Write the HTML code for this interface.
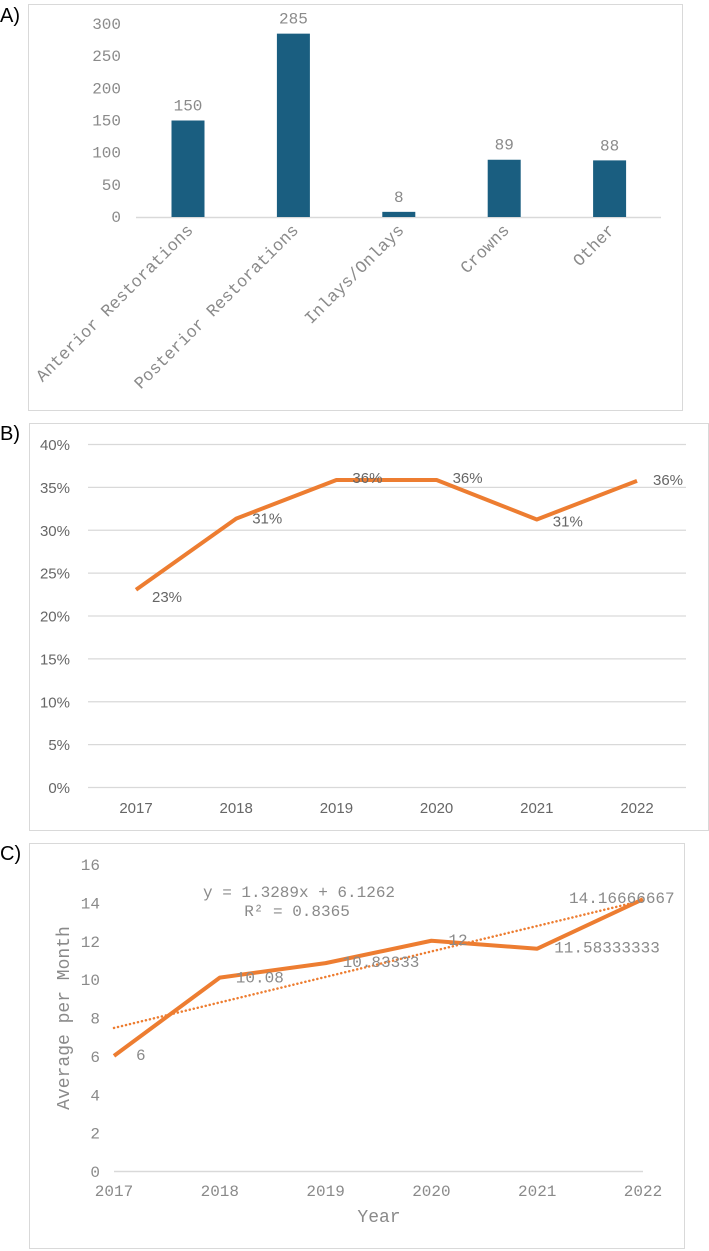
<!DOCTYPE html>
<html><head><meta charset="utf-8">
<style>
html,body{margin:0;padding:0;background:#fff;}
body{width:709px;height:1251px;position:relative;overflow:hidden;font-family:"Liberation Sans",sans-serif;}
svg{position:absolute;left:0;top:0;}
.mono{font-family:"Liberation Mono","DejaVu Sans Mono",monospace;fill:#8a8a8a;font-size:16px;}
.cat{font-size:17px;}
.nar{font-family:"Liberation Sans Narrow","Liberation Sans",sans-serif;fill:#666;font-size:15px;}
.pl{font-family:"Liberation Sans",sans-serif;font-size:20px;fill:#000;}
</style></head>
<body>
<svg width="709" height="1251" id="fig">
  <text class="pl" x="0" y="22">A)</text>
  <rect x="28.5" y="4.5" width="654" height="406" fill="none" stroke="#d9d9d9"/>
  <text class="pl" x="0" y="440">B)</text>
  <rect x="29.5" y="423.5" width="679" height="407" fill="none" stroke="#d9d9d9"/>
  <text class="pl" x="0" y="860">C)</text>
  <rect x="29.5" y="843.5" width="655" height="405" fill="none" stroke="#d9d9d9"/>
  <g id="ga"></g><g id="gb"></g><g id="gc"></g>
</svg>
<script>
const aCats=["Anterior Restorations","Posterior Restorations","Inlays/Onlays","Crowns","Other"];
const aVals=[150,285,8,89,88];
const aTicks=[0,50,100,150,200,250,300];
const bYears=["2017","2018","2019","2020","2021","2022"];
const bVals=[23,31.3,35.8,35.8,31.2,35.7];
const bLabels=["23%","31%","36%","36%","31%","36%"];
const bTicks=[0,5,10,15,20,25,30,35,40];
const cYears=["2017","2018","2019","2020","2021","2022"];
const cVals=[6,10.08,10.83333,12,11.58333333,14.16666667];
const cLabels=["6","10.08","10.83333","12","11.58333333","14.16666667"];
const cTicks=[0,2,4,6,8,10,12,14,16];
const cSlope=1.3289, cIntercept=6.1262;

const NS="http://www.w3.org/2000/svg";
function mk(parent,tag,attrs,txt){const e=document.createElementNS(NS,tag);for(const k in attrs)e.setAttribute(k,attrs[k]);if(txt!==undefined)e.textContent=txt;parent.appendChild(e);return e;}

// Panel A
(function(){
  const g=document.getElementById('ga');
  const y=v=>217-v*(193/300);
  const x=i=>188+i*105.4;
  aTicks.forEach(t=>{
    const e=mk(g,'text',{x:121,y:y(t)+5,'text-anchor':'end',class:'mono'},String(t));
    
    
  });
  const ax=mk(g,'line',{x1:136,x2:661,y1:217.5,y2:217.5,stroke:'#d9d9d9','stroke-width':1.5});
  
  
  aVals.forEach((v,i)=>{
    const r=mk(g,'rect',{x:x(i)-16.5,y:y(v),width:33,height:217-y(v),fill:'#1a5e80'});
    
    
    const l=mk(g,'text',{x:x(i),y:y(v)-10,'text-anchor':'middle',class:'mono'},String(v));
    
    
    const c=mk(g,'text',{x:0,y:0,'text-anchor':'end',class:'mono cat',transform:`translate(${x(i)+6},${231}) rotate(-45)`},aCats[i]);
    
    
  });
})();

// Panel B
(function(){
  const g=document.getElementById('gb');
  const y=v=>787-v*(343/40);
  const x=i=>136+i*100.2;
  bTicks.forEach(t=>{
    const gl=mk(g,'line',{x1:88,x2:686,y1:y(t)+0.5,y2:y(t)+0.5,stroke:'#d9d9d9','stroke-width':1.2});
    
    
    const e=mk(g,'text',{x:70,y:y(t)+6,'text-anchor':'end',class:'nar'},t+'%');
    
    
  });
  bYears.forEach((yr,i)=>{
    const e=mk(g,'text',{x:x(i),y:813,'text-anchor':'middle',class:'nar'},yr);
    
    
  });
  const pts=bVals.map((v,i)=>x(i)+','+y(v)).join(' ');
  const pl=mk(g,'polyline',{points:pts,fill:'none',stroke:'#ed7d31','stroke-width':4,'stroke-linejoin':'round'});
  
  
  const dy=[12,5,3,3,7,4];
  bVals.forEach((v,i)=>{
    const e=mk(g,'text',{x:x(i)+16,y:y(v)+dy[i],class:'nar'},bLabels[i]);
    
    
  });
})();

// Panel C
(function(){
  const g=document.getElementById('gc');
  const y=v=>1171-v*(307/16);
  const x=i=>114+i*105.8;
  cTicks.forEach(t=>{
    const e=mk(g,'text',{x:100,y:y(t)+6,'text-anchor':'end',class:'mono'},String(t));
    
    
  });
  const ax=mk(g,'line',{x1:114,x2:643,y1:1171.5,y2:1171.5,stroke:'#d9d9d9','stroke-width':1.5});
  
  
  cYears.forEach((yr,i)=>{
    const e=mk(g,'text',{x:x(i),y:1196,'text-anchor':'middle',class:'mono'},yr);
    
    
  });
  const tl=mk(g,'line',{x1:x(0),y1:y(cSlope*1+cIntercept),x2:x(5),y2:y(cSlope*6+cIntercept),stroke:'#ed7d31','stroke-width':2.5,'stroke-dasharray':'0.1 4','stroke-linecap':'round'});
  
  
  const pts=cVals.map((v,i)=>x(i)+','+y(v)).join(' ');
  const pl=mk(g,'polyline',{points:pts,fill:'none',stroke:'#ed7d31','stroke-width':4,'stroke-linejoin':'round'});
  
  
  const off=[[22,4],[16,5],[17,4],[17,4],[17,4],[-74,4]];
  cVals.forEach((v,i)=>{
    const e=mk(g,'text',{x:x(i)+off[i][0],y:y(v)+off[i][1],class:'mono'},cLabels[i]);
    
    
  });
  const eq=mk(g,'text',{x:299,y:897,'text-anchor':'middle',class:'mono'},'y = 1.3289x + 6.1262');
  
  
  const r2=mk(g,'text',{x:297,y:916,'text-anchor':'middle',class:'mono'},'R² = 0.8365');
  
  
  const xt=mk(g,'text',{x:379,y:1222,'text-anchor':'middle',class:'mono',style:'font-size:18px'},'Year');
  
  
  const yt=mk(g,'text',{x:0,y:0,'text-anchor':'middle',class:'mono',style:'font-size:18px',transform:'translate(69,1018) rotate(-90)'},'Average per Month');
  
  
})();
</script>
</body></html>
